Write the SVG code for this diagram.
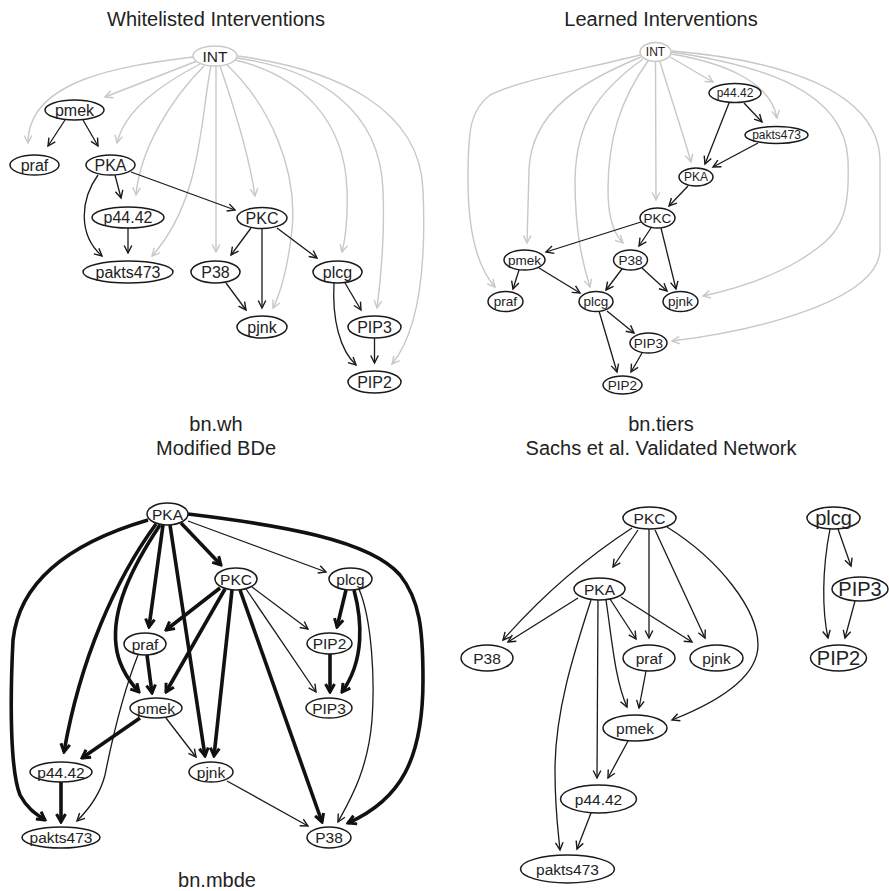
<svg xmlns="http://www.w3.org/2000/svg" width="889" height="891" viewBox="0 0 889 891">
  <style>
    text { font-family: "Liberation Sans", Arial, Helvetica, sans-serif; fill: #222; text-anchor: middle; }
    .title { font-size: 20px; }
    .node ellipse { fill: #fff; stroke: #1a1a1a; stroke-width: 1.5; }
    .node.int ellipse { stroke: #c8c8c8; }
    .node text { dominant-baseline: central; }
    .e { fill: none; stroke: #1a1a1a; stroke-width: 1.3; marker-end: url(#arr); }
    .g { fill: none; stroke: #c8c8c8; stroke-width: 1.4; marker-end: url(#arrg); }
    .t { fill: none; stroke: #111; stroke-width: 3.6; marker-end: url(#arrt); }
    .f1 text { font-size: 16px; }
    .f2 text { font-size: 13.5px; }
    .f2s text { font-size: 12px; }
    .f3 text { font-size: 15.5px; }
    .f4b text { font-size: 20px; }
  </style>
  <defs>
    <marker id="arr" viewBox="-10 -6 12 12" refX="0" refY="0" markerWidth="12" markerHeight="12" markerUnits="userSpaceOnUse" orient="auto">
      <path d="M-7.5,-3.8 L0,0 L-7.5,3.8" fill="none" stroke="#1a1a1a" stroke-width="1.4"/>
    </marker>
    <marker id="arrg" viewBox="-10 -6 12 12" refX="0" refY="0" markerWidth="12" markerHeight="12" markerUnits="userSpaceOnUse" orient="auto">
      <path d="M-7.5,-3.8 L0,0 L-7.5,3.8" fill="none" stroke="#c8c8c8" stroke-width="1.4"/>
    </marker>
    <marker id="arrt" viewBox="-12 -7 14 14" refX="0" refY="0" markerWidth="14" markerHeight="14" markerUnits="userSpaceOnUse" orient="auto">
      <path d="M-8,-4.5 L0,0 L-8,4.5" fill="none" stroke="#111" stroke-width="3"/>
    </marker>
  </defs>
  <rect width="889" height="891" fill="#fff"/>

  <!-- titles and captions -->
  <text class="title" x="216" y="26">Whitelisted Interventions</text>
  <text class="title" x="661" y="26">Learned Interventions</text>
  <text class="title" x="216" y="431">bn.wh</text>
  <text class="title" x="216" y="455">Modified BDe</text>
  <text class="title" x="661" y="431">bn.tiers</text>
  <text class="title" x="661" y="455">Sachs et al. Validated Network</text>
  <text class="title" x="217" y="887">bn.mbde</text>

  <!-- ===== whitelisted interventions: edges ===== -->
  <g id="wh-edges">
    <path class="g" d="M193,57 C120,66 28,80 28,143"/>
    <path class="g" d="M197,61 L105,97"/>
    <path class="g" d="M200,64 C160,85 125,110 117,143"/>
    <path class="g" d="M204,66 C170,100 140,150 136,195"/>
    <path class="g" d="M211,66 C200,120 202,200 152,256"/>
    <path class="g" d="M216,66 L216,252"/>
    <path class="g" d="M220,66 C235,110 250,160 255,196"/>
    <path class="g" d="M226,64 C270,105 298,170 292,230 C288,265 282,290 273,308"/>
    <path class="g" d="M235,60 C300,75 345,120 347,190 C348,220 345,240 342,252"/>
    <path class="g" d="M237,58 C320,70 380,110 383,190 C385,240 380,285 377,308"/>
    <path class="g" d="M238,56 C340,70 420,110 423,190 C426,260 420,330 392,364"/>

    <path class="e" d="M65,120 L48,146"/>
    <path class="e" d="M83,120 L98,146"/>
    <path class="e" d="M115,175 L121,198"/>
    <path class="e" d="M98,175 C80,200 78,235 102,256"/>
    <path class="e" d="M131,172 L235,210"/>
    <path class="e" d="M128,228 L128,253"/>
    <path class="e" d="M251,228 L231,255"/>
    <path class="e" d="M262,229 L262,308"/>
    <path class="e" d="M277,228 L317,258"/>
    <path class="e" d="M226,283 L246,310"/>
    <path class="e" d="M345,283 L361,310"/>
    <path class="e" d="M334,283 C332,320 340,350 356,365"/>
    <path class="e" d="M374.5,338 L374.5,363"/>
  </g>

  <!-- whitelisted interventions: nodes -->
  <g id="wh-INT" class="node int f1"><ellipse cx="215" cy="56" rx="22" ry="10"/><text x="215" y="56" style="font-size:15.5px">INT</text></g>
  <g id="wh-pmek" class="node f1"><ellipse cx="74.5" cy="110" rx="29.5" ry="10"/><text x="74.5" y="110">pmek</text></g>
  <g id="wh-praf" class="node f1"><ellipse cx="34.5" cy="165" rx="24.5" ry="10"/><text x="34.5" y="165">praf</text></g>
  <g id="wh-PKA" class="node f1"><ellipse cx="110.5" cy="165" rx="24.5" ry="10"/><text x="110.5" y="165">PKA</text></g>
  <g id="wh-p44.42" class="node f1"><ellipse cx="128" cy="217.5" rx="36" ry="10.5"/><text x="128" y="217.5">p44.42</text></g>
  <g id="wh-PKC" class="node f1"><ellipse cx="262" cy="218" rx="25" ry="10.5"/><text x="262" y="218">PKC</text></g>
  <g id="wh-pakts473" class="node f1"><ellipse cx="128" cy="272" rx="45" ry="11"/><text x="128" y="272">pakts473</text></g>
  <g id="wh-P38" class="node f1"><ellipse cx="215.5" cy="272" rx="24.5" ry="11"/><text x="215.5" y="272">P38</text></g>
  <g id="wh-plcg" class="node f1"><ellipse cx="337.5" cy="272" rx="24.5" ry="11"/><text x="337.5" y="272">plcg</text></g>
  <g id="wh-pjnk" class="node f1"><ellipse cx="262" cy="327" rx="25" ry="11"/><text x="262" y="327">pjnk</text></g>
  <g id="wh-PIP3" class="node f1"><ellipse cx="374.5" cy="327" rx="26.5" ry="11"/><text x="374.5" y="327">PIP3</text></g>
  <g id="wh-PIP2" class="node f1"><ellipse cx="374.5" cy="382" rx="26.5" ry="11"/><text x="374.5" y="382">PIP2</text></g>

  <!-- ===== learned interventions: edges ===== -->
  <g id="ti-edges">
    <path class="g" d="M640,55 C580,70 520,80 490,95 C470,110 468,130 468,180 C468,240 480,270 495,287"/>
    <path class="g" d="M641,57 C585,80 531,110 529,170 L527,243"/>
    <path class="g" d="M643,59 C600,90 576,120 575,180 C575,240 585,270 590,287"/>
    <path class="g" d="M648,61 C620,100 608,140 608,190 C608,220 615,235 623,243"/>
    <path class="g" d="M655.5,62 L656,200"/>
    <path class="g" d="M660,62 C670,95 682,130 691,162"/>
    <path class="g" d="M670,57 L713,82"/>
    <path class="g" d="M671,54 C720,62 770,80 777,118"/>
    <path class="g" d="M671,52 C760,65 845,90 848,160 C850,220 840,235 800,260 C770,278 730,290 703,296"/>
    <path class="g" d="M672,51 C780,60 878,90 880,160 L880,250 C878,300 760,330 672,341"/>

    <path class="e" d="M729,103 L705,164"/>
    <path class="e" d="M744,103 L762,122"/>
    <path class="e" d="M758,143 L713,167"/>
    <path class="e" d="M688,186 L669,206"/>
    <path class="e" d="M641,222 L546,252"/>
    <path class="e" d="M651,228 L639,246"/>
    <path class="e" d="M661,228 L676,289"/>
    <path class="e" d="M519,270 L513,289"/>
    <path class="e" d="M539,268 L580,293"/>
    <path class="e" d="M622,269 L606,290"/>
    <path class="e" d="M642,268 L667,291"/>
    <path class="e" d="M607,311 L634,333"/>
    <path class="e" d="M599,311 L617,372"/>
    <path class="e" d="M642,353 L631,372"/>
  </g>

  <!-- learned interventions: nodes -->
  <g id="ti-INT" class="node int f2s"><ellipse cx="655.5" cy="52" rx="15.5" ry="9.5"/><text x="655.5" y="52">INT</text></g>
  <g id="ti-p44.42" class="node f2s"><ellipse cx="735" cy="93" rx="26" ry="9.5"/><text x="735" y="93">p44.42</text></g>
  <g id="ti-pakts473" class="node f2s"><ellipse cx="776.5" cy="135" rx="31.5" ry="8.5"/><text x="776.5" y="135">pakts473</text></g>
  <g id="ti-PKA" class="node f2s"><ellipse cx="696" cy="177" rx="17" ry="9"/><text x="696" y="177">PKA</text></g>
  <g id="ti-PKC" class="node f2"><ellipse cx="657.5" cy="218" rx="17.5" ry="10"/><text x="657.5" y="218">PKC</text></g>
  <g id="ti-pmek" class="node f2"><ellipse cx="524.5" cy="260" rx="20.5" ry="10"/><text x="524.5" y="260">pmek</text></g>
  <g id="ti-P38" class="node f2"><ellipse cx="630.5" cy="260" rx="17" ry="10"/><text x="630.5" y="260">P38</text></g>
  <g id="ti-praf" class="node f2"><ellipse cx="505.5" cy="301.5" rx="17.5" ry="10"/><text x="505.5" y="301.5">praf</text></g>
  <g id="ti-plcg" class="node f2"><ellipse cx="596" cy="301.5" rx="17" ry="10"/><text x="596" y="301.5">plcg</text></g>
  <g id="ti-pjnk" class="node f2"><ellipse cx="680.5" cy="301.5" rx="17.5" ry="10"/><text x="680.5" y="301.5">pjnk</text></g>
  <g id="ti-PIP3" class="node f2"><ellipse cx="648.5" cy="343" rx="18.5" ry="10"/><text x="648.5" y="343">PIP3</text></g>
  <g id="ti-PIP2" class="node f2"><ellipse cx="622.5" cy="385" rx="19.5" ry="9"/><text x="622.5" y="385">PIP2</text></g>

  <!-- ===== modified BDe: edges ===== -->
  <g id="mb-edges">
    <path class="t" d="M148,520 C80,540 20,575 13,640 C10,700 10,770 20,795 C28,810 38,815 45,820"/>
    <path class="t" d="M156,524 C115,580 80,660 64,752"/>
    <path class="t" d="M160,525 C130,570 112,610 116,645 C118,665 128,680 139,692"/>
    <path class="t" d="M163,525 L149,627"/>
    <path class="t" d="M170,525 L205,756"/>
    <path class="t" d="M181,523 L221,565"/>
    <path class="e" d="M188,521 L326,572"/>
    <path class="t" d="M188,514 C280,525 370,540 400,575 C420,600 423,630 423,680 C423,760 400,800 348,823"/>

    <path class="t" d="M220,588 L166,630"/>
    <path class="t" d="M225,589 L166,692"/>
    <path class="t" d="M232,590 L214,756"/>
    <path class="t" d="M240,590 L322,822"/>
    <path class="e" d="M252,587 L308,629"/>
    <path class="e" d="M246,589 L316,692"/>

    <path class="t" d="M346,590 L337,627"/>
    <path class="t" d="M354,590 C362,620 365,660 342,692"/>
    <path class="e" d="M359,589 C372,620 375,680 372,720 C368,770 350,800 338,822"/>
    <path class="t" d="M330,654 L330,692"/>

    <path class="t" d="M147,655 L152,693"/>
    <path class="e" d="M138,655 C120,700 110,750 105,775 C100,795 88,810 77,821"/>
    <path class="t" d="M140,718 L82,758"/>
    <path class="e" d="M166,718 L196,757"/>
    <path class="t" d="M61,782 L61,822"/>
    <path class="e" d="M227,781 L308,826"/>
  </g>

  <!-- modified BDe: nodes -->
  <g id="mb-PKA" class="node f3"><ellipse cx="167.5" cy="514" rx="20.5" ry="11"/><text x="167.5" y="514">PKA</text></g>
  <g id="mb-PKC" class="node f3"><ellipse cx="236" cy="579" rx="21" ry="11"/><text x="236" y="579">PKC</text></g>
  <g id="mb-plcg" class="node f3"><ellipse cx="350.5" cy="579" rx="21.5" ry="11"/><text x="350.5" y="579">plcg</text></g>
  <g id="mb-praf" class="node f3"><ellipse cx="145" cy="644" rx="21" ry="11"/><text x="145" y="644">praf</text></g>
  <g id="mb-PIP2" class="node f3"><ellipse cx="329.5" cy="643.5" rx="22.5" ry="10.5"/><text x="329.5" y="643.5">PIP2</text></g>
  <g id="mb-pmek" class="node f3"><ellipse cx="156" cy="708" rx="26" ry="10"/><text x="156" y="708">pmek</text></g>
  <g id="mb-PIP3" class="node f3"><ellipse cx="329" cy="708" rx="23" ry="10"/><text x="329" y="708">PIP3</text></g>
  <g id="mb-p44.42" class="node f3"><ellipse cx="61" cy="772" rx="31" ry="10"/><text x="61" y="772">p44.42</text></g>
  <g id="mb-pjnk" class="node f3"><ellipse cx="211" cy="772" rx="22" ry="10"/><text x="211" y="772">pjnk</text></g>
  <g id="mb-pakts473" class="node f3"><ellipse cx="61" cy="837.5" rx="39" ry="10.5"/><text x="61" y="837.5">pakts473</text></g>
  <g id="mb-P38" class="node f3"><ellipse cx="329" cy="837.5" rx="22" ry="10.5"/><text x="329" y="837.5">P38</text></g>

  <!-- ===== validated network: edges ===== -->
  <g id="sa-edges">
    <path class="e" d="M632,528 Q560,575 503,640"/>
    <path class="e" d="M638,530 L613,567"/>
    <path class="e" d="M649,529 L649,638"/>
    <path class="e" d="M655,530 L705,638"/>
    <path class="e" d="M667,527 C720,560 758,610 758,645 C758,680 710,705 672,720"/>
    <path class="e" d="M578,598 L508,642"/>
    <path class="e" d="M591,600 C575,650 555,710 555,770 C555,810 558,830 560,850"/>
    <path class="e" d="M598,600 L597,778"/>
    <path class="e" d="M606,600 C612,640 615,680 627,707"/>
    <path class="e" d="M610,599 L636,639"/>
    <path class="e" d="M621,597 L692,642"/>
    <path class="e" d="M646,671 L639,708"/>
    <path class="e" d="M628,741 L608,778"/>
    <path class="e" d="M591,813 L577,849"/>
    <path class="e" d="M838,529 L851,566"/>
    <path class="e" d="M830,529 C822,570 822,610 828,638"/>
    <path class="e" d="M855,601 L845,638"/>
  </g>

  <!-- validated network: nodes -->
  <g id="sa-PKC" class="node f3"><ellipse cx="649.5" cy="518" rx="26.5" ry="11"/><text x="649.5" y="518">PKC</text></g>
  <g id="sa-plcg" class="node f4b"><ellipse cx="833.5" cy="518" rx="26.5" ry="11"/><text x="833.5" y="518">plcg</text></g>
  <g id="sa-PKA" class="node f3"><ellipse cx="599.5" cy="589" rx="25.5" ry="11"/><text x="599.5" y="589">PKA</text></g>
  <g id="sa-PIP3" class="node f4b"><ellipse cx="860" cy="589" rx="28" ry="12"/><text x="860" y="589">PIP3</text></g>
  <g id="sa-P38" class="node f3"><ellipse cx="487" cy="658" rx="26" ry="13"/><text x="487" y="658">P38</text></g>
  <g id="sa-praf" class="node f3"><ellipse cx="649" cy="658" rx="26" ry="13"/><text x="649" y="658">praf</text></g>
  <g id="sa-pjnk" class="node f3"><ellipse cx="716.5" cy="658" rx="26.5" ry="13"/><text x="716.5" y="658">pjnk</text></g>
  <g id="sa-PIP2" class="node f4b"><ellipse cx="838.5" cy="658" rx="28" ry="13"/><text x="838.5" y="658">PIP2</text></g>
  <g id="sa-pmek" class="node f3"><ellipse cx="635" cy="728" rx="32" ry="13"/><text x="635" y="728">pmek</text></g>
  <g id="sa-p44.42" class="node f3"><ellipse cx="598.5" cy="799" rx="38" ry="14"/><text x="598.5" y="799">p44.42</text></g>
  <g id="sa-pakts473" class="node f3"><ellipse cx="567.5" cy="869" rx="47" ry="14"/><text x="567.5" y="869">pakts473</text></g>
</svg>
